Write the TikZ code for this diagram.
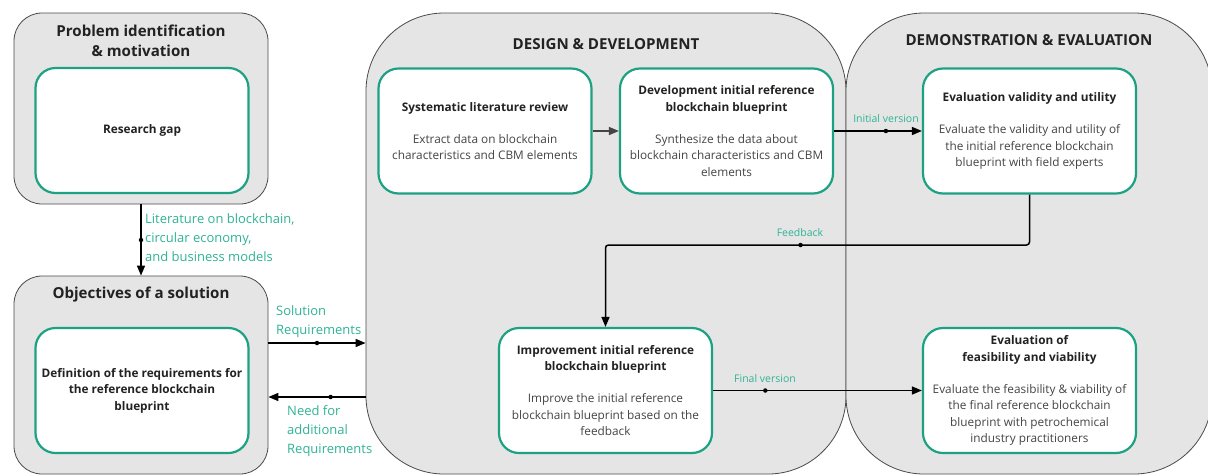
\documentclass[tikz,border=0pt]{standalone}
\usepackage{fontspec}
\setmainfont{Open Sans}
\usetikzlibrary{arrows.meta}

\definecolor{boxfill}{HTML}{E5E5E5}
\definecolor{boxline}{HTML}{4A4A4A}
\definecolor{teal}{HTML}{1CA283}
\definecolor{lblgreen}{HTML}{2FB394}
\definecolor{titlec}{HTML}{222222}
\definecolor{bodyc}{HTML}{444444}

\tikzset{
  container/.style={draw=boxline, line width=0.8pt, fill=boxfill, inner sep=0pt},
  stepbox/.style={draw=teal, line width=2.2pt, fill=white, rounded corners=20pt,
    minimum width=213pt, minimum height=125pt, inner sep=0pt, align=center,
    text=bodyc, font=\fontsize{11.8}{16.5}\selectfont},
  phasetitle/.style={text=titlec, align=center, font=\bfseries\fontsize{15.1}{20}\selectfont},
  flow/.style={draw=black, line width=1.5pt, -{Triangle[length=10pt,width=8pt]}},
  lbl/.style={text=lblgreen, align=left, inner sep=0pt, font=\fontsize{13}{19}\selectfont},
  smalllbl/.style={text=lblgreen, inner sep=0pt, font=\fontsize{10.5}{12}\selectfont},
  dot/.style={circle, fill=black, inner sep=0pt, minimum size=4.5pt},
}

\begin{document}
\begin{tikzpicture}[x=1pt,y=-1pt]
\useasboundingbox (0,0) rectangle (1208,475);

%Phase containers
\node (prob) [container, rounded corners=28pt, minimum width=254pt, minimum height=191pt] at (141,108.5) {};
\node (obj) [container, rounded corners=28pt, minimum width=254pt, minimum height=198pt] at (141,375) {};
\node (design) [container, rounded corners=78pt, minimum width=480pt, minimum height=461pt] at (606,243.5) {};
\node (demo) [container, rounded corners=78pt, minimum width=366pt, minimum height=461pt] at (1029,243.5) {};

%Phase titles
\node (probt) [phasetitle] at (141,41) {Problem identification\\\& motivation};
\node (objt) [phasetitle] at (141,295) {Objectives of a solution};
\node (designt) [phasetitle] at (606,44) {DESIGN \& DEVELOPMENT};
\node (demot) [phasetitle] at (1029,40) {DEMONSTRATION \& EVALUATION};

%Steps
\node (gap) [stepbox, text=titlec, font=\bfseries\fontsize{11.8}{16.5}\selectfont] at (142,130.5) {Research gap};
\node (reqdef) [stepbox, text=titlec, font=\bfseries\fontsize{11.8}{16.5}\selectfont] at (142,390.5) {Definition of the requirements for\\the reference blockchain\\blueprint};
\node (slr) [stepbox] at (485,131) {\textcolor{titlec}{\bfseries Systematic literature review}\\[15.5pt]Extract data on blockchain\\characteristics and CBM elements};
\node (devinit) [stepbox] at (726.5,131) {\textcolor{titlec}{\bfseries Development initial reference}\\\textcolor{titlec}{\bfseries blockchain blueprint}\\[15.5pt]Synthesize the data about\\blockchain characteristics and CBM\\elements};
\node (evalv) [stepbox] at (1029.5,131) {\textcolor{titlec}{\bfseries Evaluation validity and utility}\\[15.5pt]Evaluate the validity and utility of\\the initial reference blockchain\\blueprint with field experts};
\node (improve) [stepbox] at (605.5,390.5) {\textcolor{titlec}{\bfseries Improvement initial reference}\\\textcolor{titlec}{\bfseries blockchain blueprint}\\[15.5pt]Improve the initial reference\\blockchain blueprint based on the\\feedback};
\node (evalf) [stepbox] at (1029.5,390.5) {\textcolor{titlec}{\bfseries Evaluation of}\\\textcolor{titlec}{\bfseries feasibility and viability}\\[15.5pt]Evaluate the feasibility \& viability of\\the final reference blockchain\\blueprint with petrochemical\\industry practitioners};

%Connectors
\draw [flow] (prob.south) -- node [dot, pos=.5] (litdot) {} (obj.north);
\node (litlbl) [lbl, anchor=north west] at (145,213) {Literature on blockchain,\\circular economy,\\and business models};

\draw [flow] (obj.east |- 0,343) -- node [dot, pos=.5] (soldot) {} (design.west |- 0,343);
\node (sollbl) [lbl, anchor=north west] at (276,305) {Solution\\Requirements};

\draw [flow] (design.west |- 0,397) -- node [dot, pos=.36] (needdot) {} (obj.east |- 0,397);
\node (needlbl) [lbl, anchor=north west] at (287,405) {Need for\\additional\\Requirements};

\draw [flow, draw=bodyc] (slr) -- (devinit);

\draw [flow] (devinit.east) -- node [dot, pos=.59] (initdot) {} (evalv.west);
\node (initlbl) [smalllbl] at (886,119) {Initial version};

\draw [flow, rounded corners=3pt] (evalv.south) -- (evalv.south |- 0,245) -- node [dot, pos=.54] (fbdot) {} (improve.north |- 0,245) -- (improve.north);
\node (fblbl) [smalllbl] at (800,233) {Feedback};

\draw [flow] (improve.east) -- node [dot, pos=.25] (findot) {} (evalf.west);
\node (finlbl) [smalllbl] at (765,379) {Final version};

\end{tikzpicture}
\end{document}
